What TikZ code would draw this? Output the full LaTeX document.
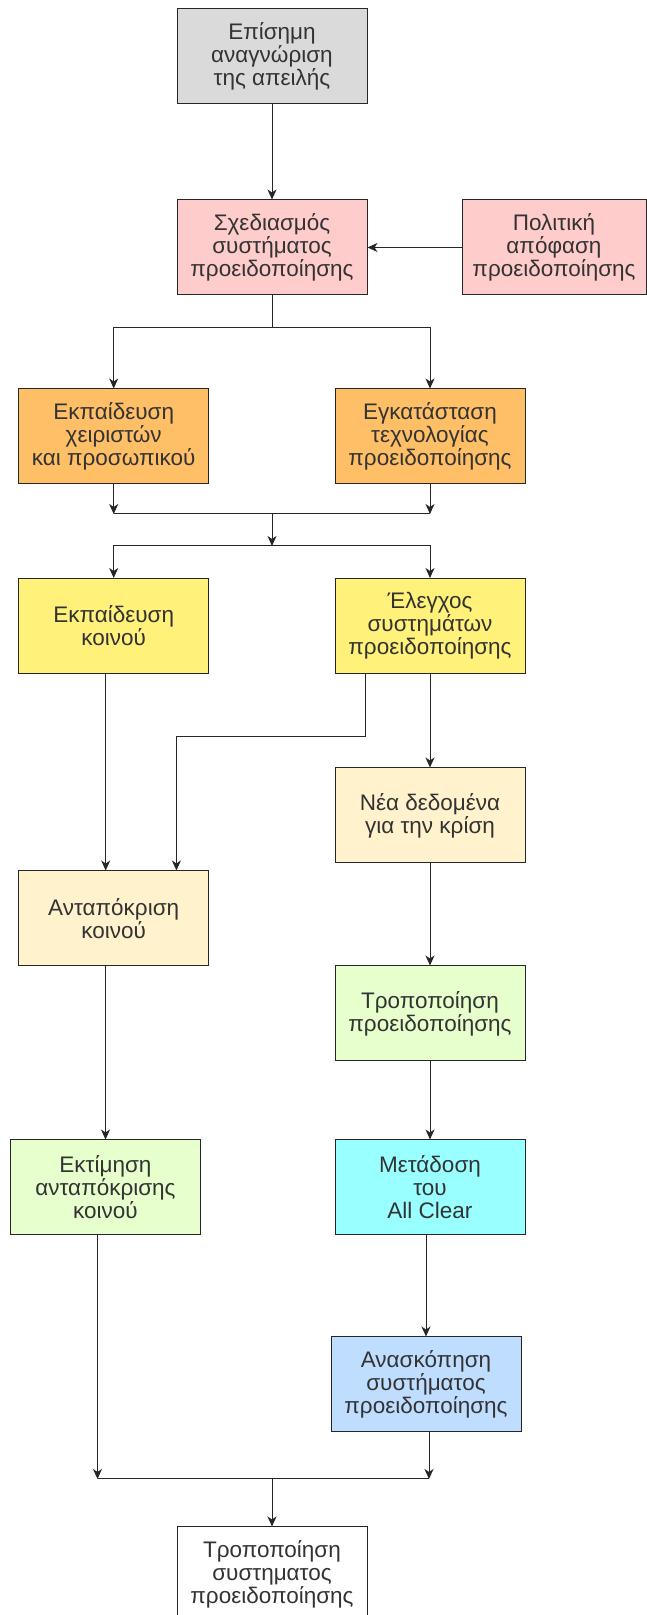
\documentclass[tikz,border=0pt]{standalone}
\usepackage{fontspec}
\setmainfont{Liberation Sans}
\usetikzlibrary{arrows.meta,calc,positioning}

\definecolor{greyfill}{HTML}{DADADA}
\definecolor{pinkfill}{HTML}{FFCCCC}
\definecolor{orangefill}{HTML}{FFBF66}
\definecolor{yellowfill}{HTML}{FFF17A}
\definecolor{creamfill}{HTML}{FFF2CC}
\definecolor{greenfill}{HTML}{E6FFCC}
\definecolor{cyanfill}{HTML}{99FFFF}
\definecolor{bluefill}{HTML}{BFDDFF}

\begin{document}
\begin{tikzpicture}[
  x=1pt,y=1pt,
  font=\fontsize{22.5}{23}\selectfont,
  >={Stealth[length=10pt,width=9pt,inset=3pt]},
  box/.style={draw=black!85,line width=1pt,rectangle,minimum width=190pt,
              minimum height=95pt,align=center,text=black!80,inner sep=2pt},
  wire/.style={draw=black!85,line width=1pt},
]
\useasboundingbox (0,0) rectangle (646,1615);

%% =====================================================
%%  TOP: threat, design, policy
%% =====================================================
\node[box,fill=greyfill] (threat) at (272,1558.5)
     {Επίσημη\\αναγνώριση\\της απειλής};
\node[box,fill=pinkfill,below=95pt of threat] (design)
     {Σχεδιασμός\\συστήματος\\προειδοποίησης};
\node[box,fill=pinkfill,minimum width=184pt,right=94pt of design] (policy)
     {Πολιτική\\απόφαση\\προειδοποίησης};

\draw[wire,->] (threat) -- (design);
\draw[wire,->] (policy) -- (design);

%% =====================================================
%%  Preparation (orange) and first stage (yellow)
%% =====================================================
\node[box,fill=orangefill] (trainops) at (113.7,1178.5)
     {Εκπαίδευση\\χειριστών\\και προσωπικού};
\node[box,fill=orangefill] (tech) at (430,1178.5)
     {Εγκατάσταση\\τεχνολογίας\\προειδοποίησης};

\coordinate (split1) at (272,1287);
\draw[wire] (design) -- (split1);
\draw[wire,->] (split1) -| (trainops);
\draw[wire,->] (split1) -| (tech);

\node[box,fill=yellowfill] (trainpub) at (113.7,989)
     {Εκπαίδευση\\κοινού};
\node[box,fill=yellowfill] (check) at (430,989)
     {Έλεγχος\\συστημάτων\\προειδοποίησης};

% merge of the two orange boxes, then split again
\coordinate (merge1) at (272,1101);
\coordinate (split2) at (272,1069);
\draw[wire,->] (trainops) -- (trainops |- merge1);
\draw[wire,->] (tech) -- (tech |- merge1);
\draw[wire] (trainops |- merge1) -- (tech |- merge1);
\draw[wire,->] (merge1) -- (split2);
\draw[wire,->] (split2) -| (trainpub);
\draw[wire,->] (split2) -| (check);

%% =====================================================
%%  Left column: public response
%% =====================================================
\node[box,fill=creamfill] (response) at (113.7,696.5)
     {Ανταπόκριση\\κοινού};
\node[box,fill=greenfill] (assess) at (105.5,427.5)
     {Εκτίμηση\\ανταπόκρισης\\κοινού};

\draw[wire,->] ($(trainpub.south)+(-8,0)$) -- ($(response.north)+(-8,0)$);
\coordinate (bend) at (365.5,878.3);
\draw[wire,->] (check.south -| bend) -- (bend) -| ($(response.north)+(62.7,0)$);
\draw[wire,->] (assess.north |- response.south) -- (assess);

%% =====================================================
%%  Right column: data, modification, all clear, review
%% =====================================================
\node[box,fill=creamfill] (data) at (430,799.5)
     {Νέα δεδομένα\\για την κρίση};
\node[box,fill=greenfill] (modify) at (430,601.5)
     {Τροποποίηση\\προειδοποίησης};
\node[box,fill=cyanfill] (allclear) at (430,427.5)
     {Μετάδοση\\του\\All Clear};
\node[box,fill=bluefill] (review) at (426,230.5)
     {Ανασκόπηση\\συστήματος\\προειδοποίησης};

\draw[wire,->] (check) -- (data);
\draw[wire,->] (data) -- (modify);
\draw[wire,->] (modify) -- (allclear);
\draw[wire,->] (review.north |- allclear.south) -- (review);

%% =====================================================
%%  Bottom: final modification
%% =====================================================
\node[box,fill=white] (final) at (272,40.5)
     {Τροποποίηση\\συστηματος\\προειδοποίησης};

\coordinate (merge2) at (272,136);
\coordinate (assessout) at ($(assess.south)+(-8,0)$);
\coordinate (reviewout) at ($(review.south)+(3,0)$);
\draw[wire,->] (assessout) -- (assessout |- merge2);
\draw[wire,->] (reviewout) -- (reviewout |- merge2);
\draw[wire] (assessout |- merge2) -- (reviewout |- merge2);
\draw[wire,->] (merge2) -- (final);

\end{tikzpicture}
\end{document}
